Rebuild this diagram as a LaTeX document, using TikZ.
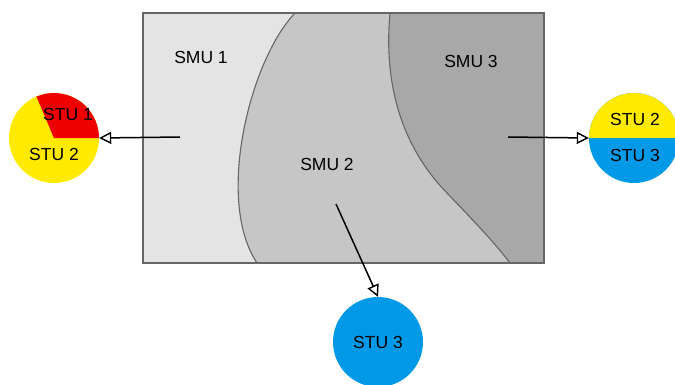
\documentclass[tikz,border=0pt]{standalone}
\usepackage{fontspec}
\setmainfont{Liberation Sans}
\usetikzlibrary{arrows.meta}
\definecolor{smuA}{HTML}{E4E4E4}
\definecolor{smuB}{HTML}{C6C6C6}
\definecolor{smuC}{HTML}{A8A8A8}
\definecolor{edgeg}{HTML}{666666}
\definecolor{stured}{HTML}{EE0000}
\definecolor{stuyel}{HTML}{FFEA00}
\definecolor{stublue}{HTML}{0099E8}
\begin{document}
\begin{tikzpicture}[x=1pt,y=-1pt,
  lbl/.style={font=\fontsize{17.5}{20}\selectfont, text=black, inner sep=0pt},
  stu/.style={circle, minimum size=90pt, inner sep=0pt},
  bound/.style={draw=edgeg, line width=1.1pt},
  conn/.style={line width=1.5pt, -{Triangle[open, length=12pt, width=12pt, line width=1.4pt]}}]
\useasboundingbox (0,0) rectangle (675,384);
% regions
\fill[smuA] (143,13) rectangle (544,263);
\fill[smuB] (295,13) .. controls (250,60) and (215,200) .. (257,263)
  -- (544,263) -- (544,13) -- cycle;
\fill[smuC] (390,13) .. controls (383,90) and (405,150) .. (447,193)
  .. controls (470,217) and (495,243) .. (510,263) -- (544,263) -- (544,13) -- cycle;
\draw[bound] (295,13) .. controls (250,60) and (215,200) .. (257,263);
\draw[bound] (390,13) .. controls (383,90) and (405,150) .. (447,193)
  .. controls (470,217) and (495,243) .. (510,263);
\draw[edgeg, line width=1.3pt] (143,13) rectangle (544,263);
% region labels
\node[lbl] (smu1) at (201,57) {SMU 1};
\node[lbl] (smu2) at (327,164) {SMU 2};
\node[lbl] (smu3) at (471,61) {SMU 3};
% left circle
\node[stu, fill=stuyel] (L) at (54,138) {};
\begin{scope}[shift={(L.center)}, x=1pt, y=1pt]
  \fill[stured] (0,0) -- (0:45) arc[start angle=0, end angle=113, radius=45] -- cycle;
\end{scope}
\node[lbl] (l1) at (68,114) {STU 1};
\node[lbl] (l2) at (54,154) {STU 2};
% right circle
\node[stu, fill=stublue] (R) at (634,138) {};
\begin{scope}[shift={(R.center)}, x=1pt, y=1pt]
  \fill[stuyel] (0:45) arc[start angle=0, end angle=180, radius=45] -- cycle;
\end{scope}
\node[lbl] (r1) at (635,119) {STU 2};
\node[lbl] (r2) at (635,155) {STU 3};
% bottom circle
\node[stu, fill=stublue] (B) at (378,342) {};
\node[lbl] (b1) at (378,342) {STU 3};
% connectors
\coordinate (a1) at (180,137);
\coordinate (a2) at (508,137);
\coordinate (a3) at (336,204);
\draw[conn] (a1) -- (L.east);
\draw[conn] (a2) -- (R.west);
\draw[conn] (a3) -- (B.north);
\end{tikzpicture}
\end{document}
